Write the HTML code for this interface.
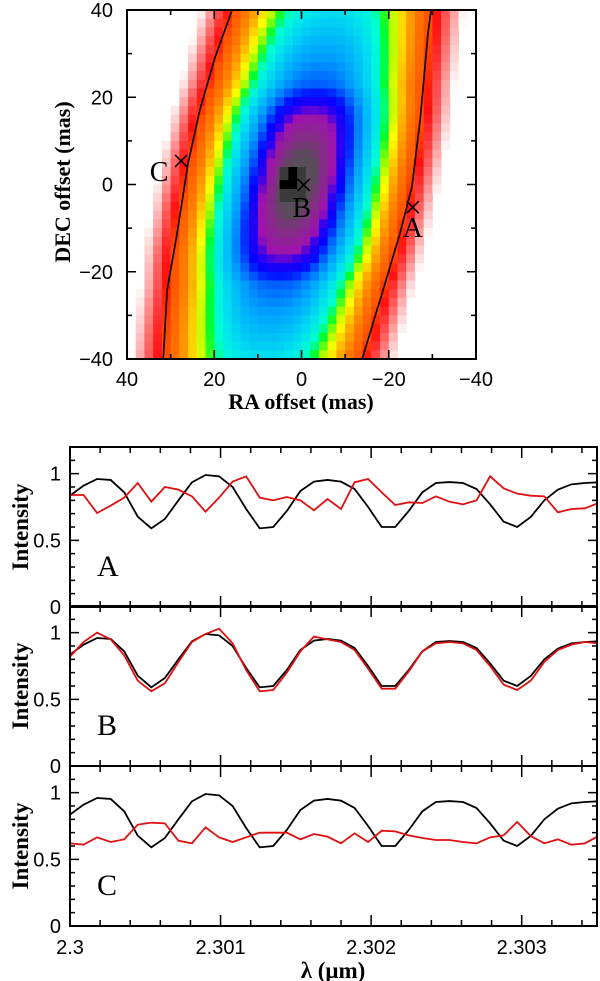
<!DOCTYPE html>
<html><head><meta charset="utf-8">
<style>
html,body{margin:0;padding:0;background:#fff;}
svg{display:block;}
text{font-family:"Liberation Sans",sans-serif;fill:#000;}
.serif{font-family:"Liberation Serif",serif;}
</style></head>
<body>
<svg id="fig" width="600" height="981" viewBox="0 0 600 981" xmlns="http://www.w3.org/2000/svg">
<g id="map"></g>
<g id="spec"></g>
</svg>
<script>
// ===== Top map data =====
const raTicks = [40, 20, 0, -20, -40];
const decTicks = [40, 20, 0, -20, -40];
const colorStopsR = [0, 3.5, 5, 7.5, 8.5, 10, 11.5, 13, 15.5, 17, 18, 19, 20, 21.5, 23, 25.5, 27, 29, 31, 32.5];
const colorStopsC = ['#555555','#5a4a5a','#803080','#a010b0','#3000f0','#0000ff','#0060ff','#00a0ff','#00e0f0','#00ffd0','#00ff30','#a0ff00','#ffff00','#ffb000','#ff8000','#ff5000','#ff1010','#ff6060','#ffc0c0','#ffffff'];
const vertDEC = [0, 8, 16, 23, 40];
const vertR = [0, 4, 7.5, 11.5, 15.5];
const contourLeftRA = [31.7, 30.8, 28.5, 26.0, 23.3, 19.8, 15.9];
const contourLeftDEC = [-40, -24.2, -11.1, 4.9, 17.1, 29.2, 40];
const contourRightRA = [-13.9, -18.7, -22.6, -25.3, -27.2, -29.0, -29.7];
const contourRightDEC = [-40, -24.2, -11.1, -0.6, 14.8, 34.7, 40];
const markerLabels = ['A', 'B', 'C'];
const markerRA = [-25.5, -0.5, 27.6];
const markerDEC = [-5.2, -0.1, 5.4];

// ===== Spectra data =====
const lambdaStart = 2.3;
const lambdaStep = 0.00009;
const lambdaTicks = [2.3, 2.301, 2.302, 2.303];
const lambdaTickLabels = ['2.3', '2.301', '2.302', '2.303'];
const intensityTicks = [0, 0.5, 1];
const intensityTickLabels = ['0', '0.5', '1'];
const modelIntensity = [0.835,0.91,0.96,0.953,0.86,0.677,0.59,0.66,0.80,0.935,0.99,0.98,0.90,0.735,0.59,0.60,0.72,0.87,0.94,0.953,
 0.94,0.885,0.75,0.60,0.60,0.72,0.86,0.93,0.937,0.93,0.885,0.77,0.64,0.60,0.675,0.80,0.88,0.92,0.93,0.935];
const obsA = [0.84,0.84,0.705,0.76,0.82,0.93,0.79,0.90,0.88,0.83,0.715,0.82,0.94,0.98,0.82,0.80,0.825,0.80,0.725,0.81,
 0.735,0.935,0.96,0.86,0.765,0.785,0.78,0.83,0.79,0.77,0.80,0.98,0.89,0.85,0.835,0.83,0.71,0.735,0.74,0.78];
const obsB = [0.82,0.93,1.0,0.95,0.83,0.64,0.56,0.62,0.78,0.93,0.99,1.03,0.92,0.72,0.56,0.57,0.70,0.86,0.97,0.95,
 0.93,0.87,0.73,0.58,0.58,0.71,0.86,0.92,0.93,0.92,0.87,0.75,0.61,0.57,0.64,0.78,0.87,0.91,0.93,0.92];
const obsC = [0.62,0.61,0.665,0.63,0.65,0.76,0.775,0.77,0.64,0.62,0.74,0.665,0.63,0.665,0.70,0.70,0.70,0.65,0.69,0.67,
 0.62,0.695,0.63,0.715,0.71,0.68,0.66,0.645,0.645,0.63,0.62,0.665,0.68,0.78,0.675,0.62,0.65,0.61,0.62,0.675];
const panelNames = ['A', 'B', 'C'];
const panelObs = [obsA, obsB, obsC];

const NS = 'http://www.w3.org/2000/svg';
function mk(tag, attrs, parent){const e=document.createElementNS(NS,tag);for(const k in attrs)e.setAttribute(k,attrs[k]);parent.appendChild(e);return e;}

// ---------- Map ----------
const map = document.getElementById('map');
const MX0=127, MX1=476, MY0=10, MY1=359;
const xRA = ra => MX0 + (40 - ra) / 80 * (MX1 - MX0);
const yDEC = d => MY0 + (40 - d) / 80 * (MY1 - MY0);
function hex2rgb(h){return [parseInt(h.substr(1,2),16),parseInt(h.substr(3,2),16),parseInt(h.substr(5,2),16)];}
function cmap(r){
  if (r >= colorStopsR[colorStopsR.length-1]) return null;
  for (let i=0;i<colorStopsR.length-1;i++){
    if (r < colorStopsR[i+1]){
      const t=(r-colorStopsR[i])/(colorStopsR[i+1]-colorStopsR[i]);
      const a=hex2rgb(colorStopsC[i]), b=hex2rgb(colorStopsC[i+1]);
      return 'rgb('+a.map((v,j)=>Math.round(v+(b[j]-v)*t)).join(',')+')';
    }
  }
  return null;
}
function vert(d){
  d=Math.abs(d);
  for (let i=0;i<vertDEC.length-1;i++){
    if (d<=vertDEC[i+1]) return vertR[i]+(vertR[i+1]-vertR[i])*(d-vertDEC[i])/(vertDEC[i+1]-vertDEC[i]);
  }
  return vertR[vertR.length-1];
}
const cellG = mk('g', {}, map);


for (let ra=40; ra>-40; ra-=2){
  for (let dec=40; dec>-40; dec-=2){
    const cra=ra-1, cdec=dec-1;
    const u = cra - 0.9 + 0.2*cdec;
    const g = vert(cdec);
    const r = Math.pow(Math.pow(Math.abs(u),2.5)+Math.pow(g,2.5),1/2.5);
    const c = cmap(r);
    if (!c) continue;
    const x0=xRA(ra), y0=yDEC(dec);
    const cell = mk('rect', {x:x0, y:y0, width:xRA(ra-2)-x0+0.4, height:yDEC(dec-2)-y0+0.4, fill:c}, cellG);
    
    
  }
}
const blk1 = mk('rect',{x:xRA(5),y:yDEC(4),width:xRA(-1)-xRA(5),height:yDEC(-4)-yDEC(4),fill:'#3a3a3a'},map);


const blk2 = mk('path',{d:`M${xRA(3)},${yDEC(4)}H${xRA(1)}V${yDEC(-1)}H${xRA(5)}V${yDEC(1)}H${xRA(3)}Z`,fill:'#000'},map);


function contour(ras, decs, name){
  const p = mk('polyline',{points:ras.map((r,i)=>xRA(r)+','+yDEC(decs[i])).join(' '),fill:'none',stroke:'#000','stroke-width':1.6},map);
  
  
}
contour(contourLeftRA, contourLeftDEC, 'contour-left');
contour(contourRightRA, contourRightDEC, 'contour-right');
const labelOff = {A:[0,30], B:[-2,32], C:[-22,20]};
markerLabels.forEach((lab,i)=>{
  const x=xRA(markerRA[i]), y=yDEC(markerDEC[i]), s=6;
  const m = mk('path',{d:`M${x-s},${y-s}L${x+s},${y+s}M${x-s},${y+s}L${x+s},${y-s}`,stroke:'#000','stroke-width':1.6},map);
  
  
  const t = mk('text',{x:x+labelOff[lab][0],y:y+labelOff[lab][1],'font-size':28,'text-anchor':'middle',class:'serif'},map);
  t.textContent = lab;
  
  
});
const mf = mk('rect',{x:MX0,y:MY0,width:MX1-MX0,height:MY1-MY0,fill:'none',stroke:'#000','stroke-width':2},map);


for (let v=-40; v<=40; v+=10){
  const maj = v%20===0, L = maj?9:5;
  const x=xRA(v), y=yDEC(v);
  mk('path',{d:`M${x},${MY1}v${-L}M${x},${MY0}v${L}M${MX0},${y}h${L}M${MX1},${y}h${-L}`,stroke:'#000','stroke-width':1.6},map);
}
raTicks.forEach(v=>{
  const t=mk('text',{x:xRA(v),y:386,'font-size':20,'text-anchor':'middle'},map);
  t.textContent = v<0 ? '\u2212'+(-v) : String(v);
  
  
});
decTicks.forEach(v=>{
  const t=mk('text',{x:113,y:yDEC(v)+7,'font-size':20,'text-anchor':'end'},map);
  t.textContent = v<0 ? '\u2212'+(-v) : String(v);
  
  
});
const rax = mk('text',{x:301,y:409,'font-size':22,'text-anchor':'middle',class:'serif','font-weight':'bold'},map);
rax.textContent='RA offset (mas)';


const dax = mk('text',{x:0,y:0,'font-size':22,'text-anchor':'middle',class:'serif','font-weight':'bold',transform:'translate(70,182) rotate(-90)'},map);
dax.textContent='DEC offset (mas)';



// ---------- Spectra ----------
const spec = document.getElementById('spec');
const SX0=70, SX1=597;
const xL = l => SX0 + (l - lambdaStart) / 0.0035 * (SX1 - SX0);
const panelTop = [447, 606, 766];
const PH = 160;
mk('defs',{},spec).innerHTML = '<clipPath id="sclip"><rect x="70" y="0" width="527" height="981"/></clipPath>';
panelNames.forEach((name,pi)=>{
  const top = panelTop[pi], bot = top + PH;
  const yI = v => bot - v / 1.2 * PH;
  const g = mk('g',{},spec);
  
  
  const cg = mk('g',{'clip-path':'url(#sclip)'},g);
  const mline = mk('polyline',{points:modelIntensity.map((v,i)=>xL(lambdaStart+i*lambdaStep)+','+yI(v)).join(' '),fill:'none',stroke:'#000','stroke-width':1.8},cg);
  
  
  const oline = mk('polyline',{points:panelObs[pi].map((v,i)=>xL(lambdaStart+i*lambdaStep)+','+yI(v)).join(' '),fill:'none',stroke:'#e01010','stroke-width':1.8},cg);
  
  
  const fr = mk('rect',{x:SX0,y:top,width:SX1-SX0,height:PH,fill:'none',stroke:'#000','stroke-width':2},g);
  
  
  for (let k=0;k<=12;k++){
    const v=k/10, y=yI(v), L=(k%5===0)?9:5;
    mk('path',{d:`M${SX0},${y}h${L}M${SX1},${y}h${-L}`,stroke:'#000','stroke-width':1.5},g);
  }
  for (let k=0;k<=17;k++){
    const x=xL(lambdaStart+k*0.0002), L=(k%5===0)?11:6;
    mk('path',{d:`M${x},${top}v${L}M${x},${bot}v${-L}`,stroke:'#000','stroke-width':1.5},g);
  }
  intensityTicks.forEach((v,i)=>{
    const t=mk('text',{x:61,y:yI(v)+7,'font-size':20,'text-anchor':'end'},g);
    t.textContent=intensityTickLabels[i];
    
    
  });
  const yl=mk('text',{x:0,y:0,'font-size':23,'text-anchor':'middle',class:'serif','font-weight':'bold',transform:`translate(28,${top+80}) rotate(-90)`},g);
  yl.textContent='Intensity';
  
  
  const pl=mk('text',{x:97,y:top+129,'font-size':30,class:'serif'},g);
  pl.textContent=name;
  
  
});
lambdaTicks.forEach((v,i)=>{
  const t=mk('text',{x:xL(v),y:954,'font-size':20,'text-anchor':'middle'},spec);
  t.textContent=lambdaTickLabels[i];
  
  
});
const xl=mk('text',{x:333,y:978,'font-size':23,'text-anchor':'middle',class:'serif','font-weight':'bold'},spec);
xl.textContent='\u03bb (\u03bcm)';


</script>
</body></html>
